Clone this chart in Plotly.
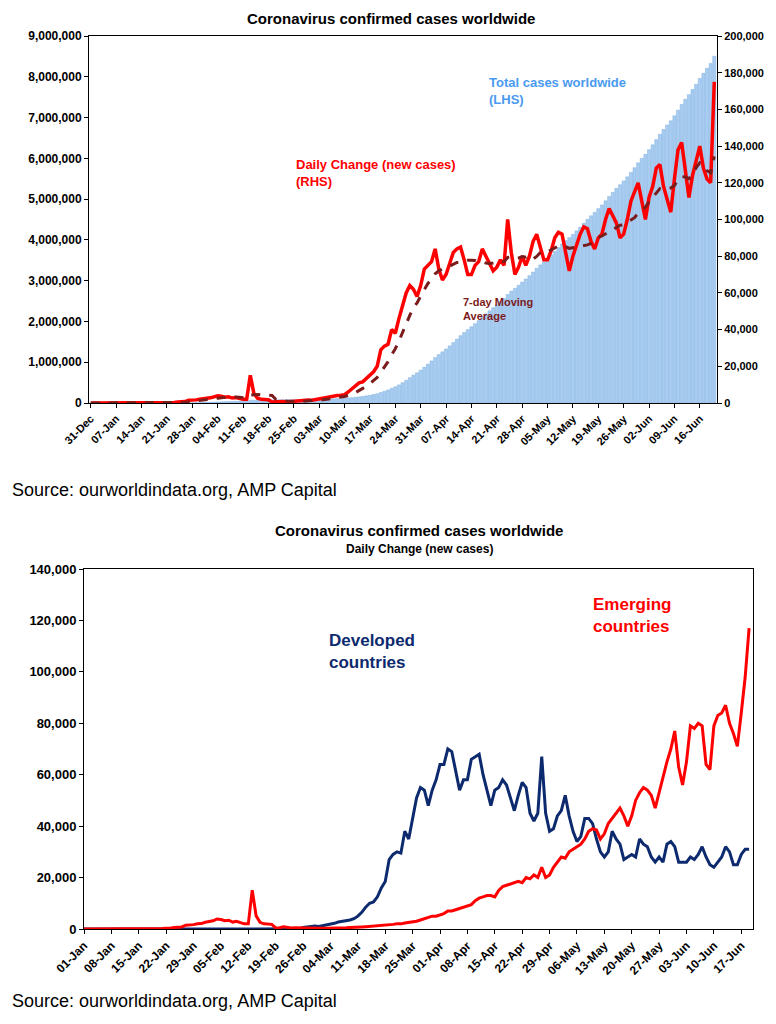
import plotly.graph_objects as go
import pandas as pd
import numpy as np

# World daily new cases (thousands), 31-Dec-2019 .. 20-Jun-2020
world_daily_k = [
 0,0,0,0,0,0,0, 0,0,0,0,0,0,0, 0,0,0,0,0,0,0.1,
 0.2,0.3,0.3,0.6,0.7,0.8,1.5, 1.5,1.7,2.0,2.1,2.6,2.8,3.2,
 3.9,3.7,3.2,3.4,2.7,3.0,2.5, 2.0,2.0,15.1,5.1,2.6,2.0,1.9,
 1.8,0.5,0.6,1.0,0.8,0.6,0.8, 0.9,1.0,1.2,1.4,1.6,1.5,1.9,
 2.2,2.3,2.7,3.3,3.7,4.1,4.2, 4.5,6.0,7.5,9.5,11.0,11.5,13.5,
 15.0,17.0,20.0,29.0,31.0,32.0,40.0, 38.0,46.0,54.0,60.0,64.0,62.0,58.0,
 64.0,73.0,75.0,77.0,84.0,73.0,67.0, 70.0,76.0,82.0,84.0,85.0,78.0,70.0,
 70.0,75.0,77.0,84.0,80.0,76.0,72.0, 74.0,78.0,75.0,100.0,82.0,70.0,74.0,
 80.0,75.0,80.0,88.0,92.0,85.0,78.0, 78.0,83.0,90.0,93.0,92.0,82.0,72.0,
 80.0,86.0,92.0,96.0,95.0,88.0,84.0, 90.0,92.0,100.0,106.0,102.0,98.0,90.0,
 92.0,100.0,110.0,115.0,120.0,110.0,100.0, 112.0,118.0,128.0,130.0,118.0,110.0,104.0,
 122.0,138.0,142.0,128.0,112.0,124.0,132.0, 140.0,128.0,122.0,120.0,175.0]

# Emerging / developed daily new cases (thousands), 01-Jan .. 19-Jun-2020
emerging_k = [
 0,0,0,0,0,0,0, 0,0,0,0,0,0,0, 0,0,0,0,0.1,0.1,0.2,
 0.3,0.3,0.6,0.7,0.8,1.5,1.5, 1.7,2.0,2.1,2.6,2.8,3.2,3.9,
 3.7,3.2,3.4,2.7,3.0,2.5,2.0, 2.0,15.1,5.1,2.6,2.0,1.9,1.8,
 0.4,0.5,0.9,0.6,0.4,0.5,0.4, 0.5,0.4,0.4,0.3,0.3,0.3,0.3,
 0.3,0.3,0.4,0.4,0.5,0.6,0.6, 0.7,0.8,0.9,1.0,1.1,1.2,1.3,
 1.5,1.6,1.8,2.0,2.0,2.3,2.5, 2.7,3.0,3.5,4.0,4.5,5.0,5.0,
 5.5,6.0,7.0,7.0,7.5,8.0,8.5, 9.0,9.5,11.0,12.0,12.5,13.0,13.0,
 12.5,15.0,16.5,17.0,17.5,18.0,18.5, 18.0,20.0,19.5,21.0,20.0,24.0,20.0,
 21.0,24.0,26.0,28.0,27.5,30.0,31.0, 32.0,33.0,35.0,38.0,39.0,38.5,35.0,
 37.0,41.0,43.0,45.0,47.0,44.0,40.0, 44.0,50.0,53.0,55.0,54.0,52.0,47.0,
 53.0,60.0,65.0,70.0,77.0,63.0,56.0, 65.0,79.0,78.0,80.0,79.0,64.0,62.0,
 79.0,83.0,84.0,87.0,80.0,76.0,71.0, 84.0,98.0,117.0]
developed_k = [0]*35 + [0.05]*21 + [
 0.6,0.8,1.0,1.2,1.0,1.3,1.5, 1.8,2.2,2.7,2.9,3.2,3.5,4.0,
 5.0,6.5,8.5,10.0,10.5,12.5,16.0, 18.5,27.0,29.0,30.0,29.5,38.0,35.0,
 43.0,51.0,55.0,54.0,48.0,54.0,58.0, 64.0,64.0,70.0,69.0,61.0,54.0,58.0,
 58.0,66.0,67.0,68.0,60.0,54.0,48.0, 54.0,55.0,58.0,56.0,51.0,46.0,52.0,
 57.0,55.0,45.0,42.0,45.0,67.0,45.0, 38.0,39.0,44.0,46.0,52.0,44.0,38.0,
 34.0,36.0,43.0,43.0,41.0,35.0,30.0, 28.0,30.0,38.0,35.0,33.0,27.0,28.0,
 29.0,28.0,35.0,33.0,32.0,28.0,26.0, 28.0,26.0,33.0,34.0,32.0,26.0,26.0,
 26.0,28.0,27.0,29.0,32.0,28.0,25.0, 24.0,26.0,28.0,32.0,30.0,25.0,25.0,
 29.0,31.0,31.0]

d_top = pd.date_range("2019-12-31", periods=len(world_daily_k))
d_bot = pd.date_range("2020-01-01", periods=len(emerging_k))
world_daily = np.array(world_daily_k) * 1000
total = np.cumsum(world_daily)
ma7 = pd.Series(world_daily).rolling(7, min_periods=1).mean().values
emerging = np.array(emerging_k) * 1000
developed = np.array(developed_k) * 1000

W, H, OFF = 776, 1024, 7
def px(x): return (x - OFF) / W
def py(y): return 1 - (y - OFF) / H

F = "Liberation Sans"
fig = go.Figure()
fig.add_trace(go.Bar(x=d_top, y=total, marker=dict(color="#a9cdf0", line=dict(color="#7fb0e3", width=0.5)),
                     xaxis="x", yaxis="y"))
fig.add_trace(go.Scatter(x=d_top, y=world_daily, mode="lines", line=dict(color="#ff0000", width=3.5),
                         xaxis="x", yaxis="y2"))
fig.add_trace(go.Scatter(x=d_top, y=ma7, mode="lines", line=dict(color="#7b1c1c", width=3, dash="dash"),
                         xaxis="x", yaxis="y2"))
fig.add_trace(go.Scatter(x=d_bot, y=developed, mode="lines", line=dict(color="#0d2a6e", width=3),
                         xaxis="x2", yaxis="y3"))
fig.add_trace(go.Scatter(x=d_bot, y=emerging, mode="lines", line=dict(color="#ff0000", width=3),
                         xaxis="x2", yaxis="y3"))

tt = pd.date_range("2019-12-31", "2020-06-16", freq="7D")
tb = pd.date_range("2020-01-01", "2020-06-17", freq="7D")
def fmt(v): return "<b>" + f"{v:,}" + "</b>"
ax = dict(showline=True, linecolor="black", linewidth=1, mirror=True, ticks="outside", ticklen=4, automargin=False,
          tickcolor="black", showgrid=False, zeroline=False, tickfont=dict(family=F, size=11, color="black"))
fig.update_layout(
    width=W, height=H, margin=dict(l=0, r=0, t=0, b=0), showlegend=False,
    plot_bgcolor="white", paper_bgcolor="white", bargap=0.15,
    xaxis=dict(ax, domain=[px(88), px(716)], anchor="y", range=[pd.Timestamp("2019-12-30 12:00"), pd.Timestamp("2020-06-20 18:00")],
               tickvals=tt, ticktext=["<b>"+d.strftime("%d-%b")+"</b>" for d in tt], tickangle=-45),
    yaxis=dict(ax, domain=[py(402), py(35)], range=[0, 9e6], tickvals=list(range(0, 9000001, 1000000)),
               ticktext=[fmt(v) for v in range(0, 9000001, 1000000)], tickfont=dict(family=F, size=12, color="black")),
    yaxis2=dict(ax, overlaying="y", side="right", anchor="x", range=[0, 200000], mirror=False,
                tickvals=list(range(0, 200001, 20000)), ticktext=[fmt(v) for v in range(0, 200001, 20000)]),
    xaxis2=dict(ax, domain=[px(83), px(752)], anchor="y3", range=[pd.Timestamp("2020-01-01"), pd.Timestamp("2020-06-20")],
                tickvals=tb, ticktext=["<b>"+d.strftime("%d-%b")+"</b>" for d in tb], tickangle=-45,
                tickfont=dict(family=F, size=12, color="black")),
    yaxis3=dict(ax, domain=[py(928), py(568)], anchor="x2", range=[0, 140000],
                tickvals=list(range(0, 140001, 20000)), ticktext=[fmt(v) for v in range(0, 140001, 20000)],
                tickfont=dict(family=F, size=13, color="black")),
)
ann = [
 dict(x=390, y=17, text="<b>Coronavirus confirmed cases worldwide</b>", size=15, color="black"),
 dict(x=486, y=90, text="<b>Total cases worldwide<br>(LHS)</b>", size=13, color="#4a9af0", align="left", xanchor="left"),
 dict(x=293, y=172, text="<b>Daily Change (new cases)<br>(RHS)</b>", size=13, color="#ff0000", align="left", xanchor="left"),
 dict(x=460, y=308, text="<b>7-day Moving<br>Average</b>", size=11, color="#7b1c1c", align="left", xanchor="left"),
 dict(x=9, y=489, text="Source: ourworldindata.org, AMP Capital", size=18, color="black", xanchor="left"),
 dict(x=418, y=529, text="<b>Coronavirus confirmed cases worldwide</b>", size=15, color="black"),
 dict(x=418, y=548, text="<b>Daily Change (new cases)</b>", size=12, color="black"),
 dict(x=326, y=650, text="<b>Developed<br>countries</b>", size=17, color="#0d2a6e", align="left", xanchor="left"),
 dict(x=590, y=614, text="<b>Emerging<br>countries</b>", size=17, color="#ff0000", align="left", xanchor="left"),
 dict(x=9, y=1000, text="Source: ourworldindata.org, AMP Capital", size=18, color="black", xanchor="left"),
]
fig.update_layout(annotations=[dict(xref="paper", yref="paper", x=px(a["x"]), y=py(a["y"]), text=a["text"], showarrow=False,
    xanchor=a.get("xanchor", "center"), yanchor="middle", align=a.get("align", "center"),
    font=dict(family=F, size=a["size"], color=a["color"])) for a in ann])
fig.write_html("out.html")
